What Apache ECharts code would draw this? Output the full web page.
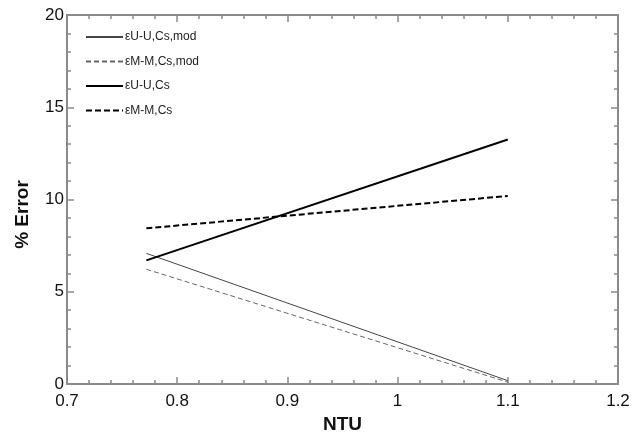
<!DOCTYPE html>
<html><head><meta charset="utf-8">
<script src="https://cdn.jsdelivr.net/npm/echarts@6/dist/echarts.min.js"></script>
<style>html,body{margin:0;padding:0;background:#fff}#c{width:642px;height:432px}</style>
</head><body><div id="c"></div>
<script>
const ntu = [0.772, 1.1];
const uuMod = [7.08, 0.18];
const mmMod = [6.22, 0.1];
const uu = [6.7, 13.25];
const mm = [8.44, 10.19];
const names = ['\u03B5U-U,Cs,mod', '\u03B5M-M,Cs,mod', '\u03B5U-U,Cs', '\u03B5M-M,Cs'];
const xTicks = {min: 0.7, max: 1.2, interval: 0.1};
const yTicks = {min: 0, max: 20, interval: 5};

const pair = (ys) => ntu.map((x, i) => [x, ys[i]]);
const axisCol = '#8a8a8a';
const font = 'Liberation Sans, Arial, sans-serif';
function ax(extra, show) {
  return Object.assign({
    type: 'value',
    axisLine: {show: true, onZero: false, lineStyle: {color: axisCol, width: 2}},
    axisTick: {show: true, inside: true, length: 7, lineStyle: {color: axisCol, width: 1.5}},
    minorTick: {show: true, splitNumber: 5, length: 4, lineStyle: {color: axisCol, width: 1.5}},
    splitLine: {show: false},
    axisLabel: {show: show, color: '#111', fontSize: 17, fontFamily: font, margin: 3}
  }, extra);
}
const chart = echarts.init(document.getElementById('c'), null, {renderer: 'canvas'});
chart.setOption({
  animation: false,
  grid: {left: 67, right: 24, top: 15, bottom: 48, containLabel: false, outerBoundsMode: 'none'},
  xAxis: [
    ax({min: xTicks.min, max: xTicks.max, interval: xTicks.interval, position: 'bottom',
        name: 'NTU', nameLocation: 'middle', nameGap: 28,
        nameTextStyle: {fontSize: 19, fontWeight: 'bold', color: '#111', fontFamily: font},
        axisLabel: {show: true, color: '#111', fontSize: 17, fontFamily: font, margin: 9,
          formatter: v => String(Math.round(v * 10) / 10)}}, true),
    ax({min: xTicks.min, max: xTicks.max, interval: xTicks.interval, position: 'top'}, false)
  ],
  yAxis: [
    ax({min: yTicks.min, max: yTicks.max, interval: yTicks.interval, position: 'left',
        name: '% Error', nameLocation: 'middle', nameGap: 35, nameRotate: 90,
        nameTextStyle: {fontSize: 19, fontWeight: 'bold', color: '#111', fontFamily: font, padding: [0, 30, 0, 0]}}, true),
    ax({min: yTicks.min, max: yTicks.max, interval: yTicks.interval, position: 'right'}, false)
  ],
  legend: {
    orient: 'vertical', left: 80, top: 26, itemWidth: 37, itemHeight: 14, itemGap: 12.5,
    itemStyle: {opacity: 0},
    textStyle: {fontSize: 12, color: '#222', fontFamily: font, padding: [7, 0, 0, -3]},
    data: names
  },
  series: [
    {name: names[0], type: 'line', data: pair(uuMod), symbol: 'none', lineStyle: {color: '#444', width: 1}, itemStyle: {color: '#444'}},
    {name: names[1], type: 'line', data: pair(mmMod), symbol: 'none', lineStyle: {color: '#666', width: 1, type: [5, 3]}, itemStyle: {color: '#666'}},
    {name: names[2], type: 'line', data: pair(uu), symbol: 'none', lineStyle: {color: '#000', width: 2}, itemStyle: {color: '#000'}},
    {name: names[3], type: 'line', data: pair(mm), symbol: 'none', lineStyle: {color: '#000', width: 2, type: [6, 3]}, itemStyle: {color: '#000'}}
  ]
});
</script></body></html>
